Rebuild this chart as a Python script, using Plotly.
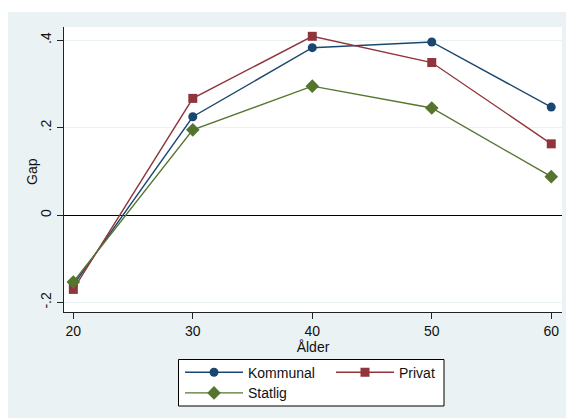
import plotly.graph_objects as go

# Wage gap by age for three sectors
ages = [20, 30, 40, 50, 60]
kommunal = [-0.160, 0.225, 0.383, 0.396, 0.247]
privat = [-0.170, 0.267, 0.409, 0.349, 0.163]
statlig = [-0.153, 0.195, 0.295, 0.245, 0.088]

y_ticks = [-0.2, 0.0, 0.2, 0.4]
y_ticktext = ["-.2", "0", ".2", ".4"]
x_ticks = [20, 30, 40, 50, 60]

W, H = 566, 418
ML, MR, MT, MB = 64, 4, 27, 106
PW, PH = W - ML - MR, H - MT - MB


def px_x(x):
    return (x - ML) / PW


def px_y(y):
    return 1 - (y - MT) / PH


NAVY = "#1a476f"
MAROON = "#90353b"
GREEN = "#55752f"
BG = "#eaf2f3"
FONT = "Liberation Sans, Arial, sans-serif"

fig = go.Figure()

fig.add_trace(go.Scatter(
    x=ages, y=kommunal, name="Kommunal", mode="lines+markers",
    line=dict(color=NAVY, width=1.4),
    marker=dict(symbol="circle", size=9, color=NAVY),
    legend="legend",
))
fig.add_trace(go.Scatter(
    x=ages, y=privat, name="Privat", mode="lines+markers",
    line=dict(color=MAROON, width=1.4),
    marker=dict(symbol="square", size=9, color=MAROON),
    legend="legend",
))
fig.add_trace(go.Scatter(
    x=ages, y=statlig, name="Statlig", mode="lines+markers",
    line=dict(color=GREEN, width=1.4),
    marker=dict(symbol="diamond", size=10.5, color=GREEN),
    legend="legend2",
))

shapes = [
    # outer graph region
    dict(type="rect", xref="paper", yref="paper", layer="below",
         x0=px_x(8), x1=px_x(566), y0=px_y(12), y1=px_y(420),
         fillcolor=BG, line=dict(width=0)),
    # plot region
    dict(type="rect", xref="paper", yref="paper", layer="below",
         x0=0, x1=1, y0=0, y1=1, fillcolor="white", line=dict(width=0)),
    # legend box
    dict(type="rect", xref="paper", yref="paper", layer="above",
         x0=px_x(178.5), x1=px_x(444), y0=px_y(359.5), y1=px_y(406),
         fillcolor="white", line=dict(color="black", width=1)),
]

legend_common = dict(
    orientation="h", xanchor="left", yanchor="middle",
    bgcolor="rgba(0,0,0,0)", borderwidth=0,
    font=dict(family=FONT, size=14, color="#111"),
    itemwidth=58, entrywidth=78, entrywidthmode="pixels",
    tracegroupgap=0, itemclick=False, itemdoubleclick=False,
)

fig.update_layout(
    width=W, height=H,
    margin=dict(l=ML, r=MR, t=MT, b=MB),
    paper_bgcolor="white",
    plot_bgcolor="rgba(0,0,0,0)",
    font=dict(family=FONT, size=14, color="#111"),
    shapes=shapes,
    showlegend=True,
    legend=dict(x=px_x(180), y=px_y(372.7), **legend_common),
    legend2=dict(x=px_x(180), y=px_y(393.3), **legend_common),
    annotations=[
        dict(text="Gap", xref="paper", yref="paper",
             x=px_x(32), y=px_y(172), xanchor="center", yanchor="middle",
             textangle=-90, showarrow=False,
             font=dict(family=FONT, size=14, color="#111")),
    ],
    xaxis=dict(
        range=[19.22, 60.9], tickvals=x_ticks,
        showgrid=False, zeroline=False,
        showline=True, linecolor="#222", linewidth=1.3,
        ticks="outside", ticklen=6, tickwidth=1.2, tickcolor="#222",
        tickfont=dict(size=14, color="#111"),
        title=dict(text="Ålder", font=dict(size=14, color="#111"), standoff=0),
    ),
    yaxis=dict(
        range=[-0.2217, 0.4303], tickvals=y_ticks, ticktext=y_ticktext,
        tickangle=-90,
        showgrid=True, gridcolor=BG, gridwidth=1.2,
        zeroline=True, zerolinecolor="black", zerolinewidth=1.3,
        showline=True, linecolor="#222", linewidth=1.3,
        ticks="outside", ticklen=6, tickwidth=1.2, tickcolor="#222",
        tickfont=dict(size=14, color="#111"),
    ),
)

fig.write_html("out.html")
